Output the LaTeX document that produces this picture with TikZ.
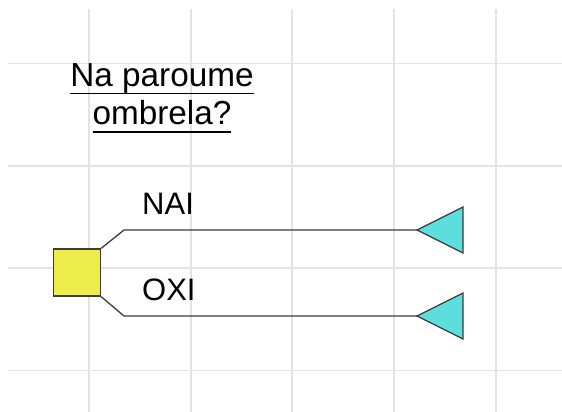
\documentclass[tikz,border=0pt]{standalone}
\usepackage{fontspec}
\setmainfont{Liberation Sans}
\usepackage{tikz}
\usetikzlibrary{shapes.geometric}

\definecolor{gridgray}{HTML}{E3E3E3}
\definecolor{edgegray}{HTML}{3C3C3C}
\definecolor{choiceyellow}{HTML}{EDEC4A}
\definecolor{endcyan}{HTML}{5CDEDC}

% underline drawn at a fixed depth below the baseline
\newlength{\undlwd}
\newcommand{\undl}[1]{\settowidth{\undlwd}{#1}\rlap{\rule[-7.8pt]{\undlwd}{1.6pt}}#1}

\begin{document}
\begin{tikzpicture}[x=1pt,y=-1pt,
  choice/.style={draw=edgegray,line width=1.3pt,fill=choiceyellow,minimum size=47pt,inner sep=0pt},
  outcome/.style={isosceles triangle,isosceles triangle stretches,shape border rotate=180,
    draw=edgegray,line width=1.3pt,fill=endcyan,minimum width=46pt,minimum height=46pt,
    inner sep=0pt,outer sep=0pt},
  branch/.style={draw=edgegray,line width=1.3pt},
  lbl/.style={font=\fontsize{31}{37}\selectfont,inner sep=0pt}]
\useasboundingbox (0,0) rectangle (562,412);
\foreach \x in {89,191,292,394,496}
  \draw[gridgray,line width=1.5pt] (\x,9) -- (\x,412);
\foreach \y in {63.5,166,268,370.5}
  \draw[gridgray,line width=1.5pt] (8,\y) -- (562,\y);

\node[lbl,align=center,font=\fontsize{33.3}{38.5}\selectfont] (q) at (162,98)
  {\undl{Na paroume}\\\undl{ombrela?}};

\node[choice] (c) at (77,272.5) {};
\coordinate (ya) at (124,230);
\coordinate (na) at (124,316);
\node[outcome,anchor=apex] (yes) at (417,230) {};
\node[outcome,anchor=apex] (no) at (417,316) {};

\draw[branch] (c.north east) -- (ya) -- (yes.apex);
\draw[branch] (c.south east) -- (na) -- (no.apex);

\node[lbl,anchor=base west] (nai) at (142,214) {NAI};
\node[lbl,anchor=base west] (oxi) at (142,300.5) {OXI};
\end{tikzpicture}
\end{document}
